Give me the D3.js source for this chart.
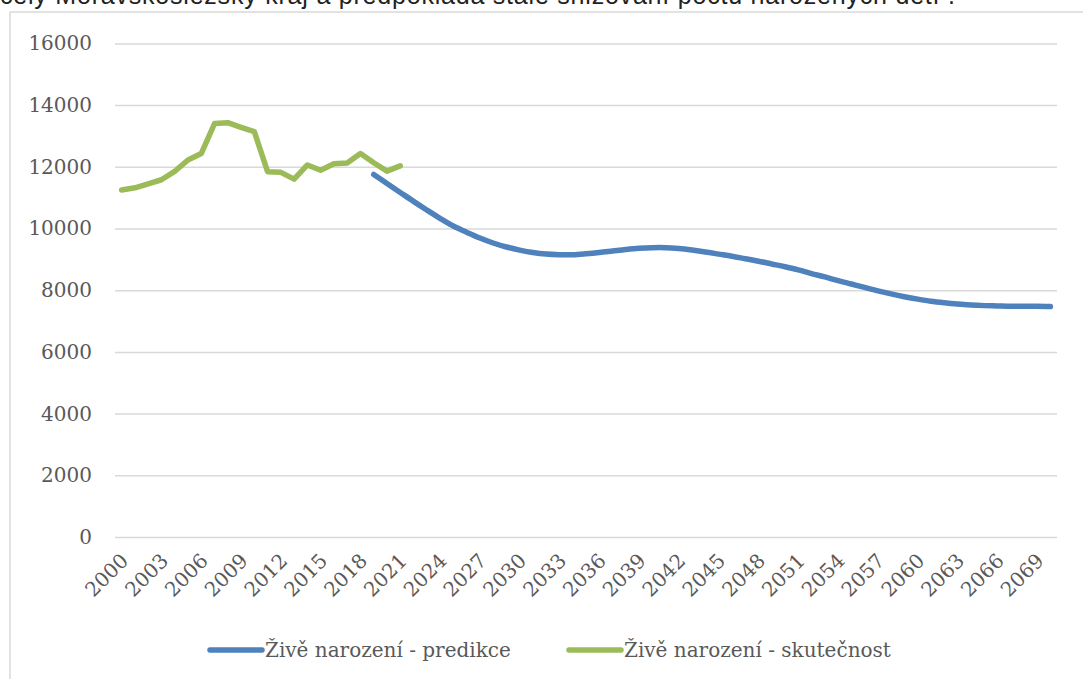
<!DOCTYPE html>
<html>
<head>
<meta charset="utf-8">
<script src="https://cdn.jsdelivr.net/npm/d3@7"></script>
<style>
  body { margin: 0; background: #fff; }
  svg { display: block; }
</style>
</head>
<body>
<div id="chart"></div>
<script>
const w = 1083;
const h = 679;

// roky 2000 - 2070 (kategorie osy x)
const years = d3.range(2000, 2071);
const tickYears = d3.range(2000, 2070, 3);
const yTicks = [0, 2000, 4000, 6000, 8000, 10000, 12000, 14000, 16000];

const actualYears = d3.range(2000, 2022);
const actual = [11250, 11320, 11450, 11580, 11850, 12220, 12430, 13400, 13430, 13280,
	13140, 11840, 11820, 11600, 12060, 11890, 12100, 12120, 12430, 12130, 11860, 12030];

const predYears = d3.range(2019, 2071);
const predicted = [11750, 11460, 11170, 10880, 10600, 10330, 10080, 9880, 9690, 9530,
	9400, 9300, 9220, 9170, 9150, 9150, 9180, 9220, 9270, 9320, 9360, 9380, 9380, 9350,
	9300, 9240, 9170, 9100, 9020, 8940, 8850, 8760, 8660, 8540, 8430, 8310, 8200, 8090,
	7980, 7880, 7790, 7710, 7640, 7590, 7550, 7520, 7500, 7490, 7480, 7480, 7480, 7470];

const legendLabels = ["Živě narození - predikce", "Živě narození - skutečnost"];
const colors = ["#4f81bd", "#9bbb59"];

const serif = "'DejaVu Serif', serif";

const svg = d3.select('#chart')
	.append('svg')
		.attr('width', w)
		.attr('height', h);

// kousek textu nad grafem (uříznutý)
svg.append("text")
	.attr("x", 0)
	.attr("y", 4)
	.attr("font-family", "'Liberation Sans', Arial, sans-serif")
	.attr("font-size", 25)
	.attr("textLength", 955)
	.attr("fill", "#222")
	.text("celý Moravskoslezský kraj a předpokládá stále snižování počtu narozených dětí .");

// rámeček grafu
svg.append("rect")
	.attr("x", 10)
	.attr("y", 12)
	.attr("width", 1100)
	.attr("height", 700)
	.attr("fill", "none")
	.attr("stroke", "#d9d9d9")
	.attr("stroke-width", 1.5);

const xScale = d3.scalePoint()
	.domain(years)
	.range([115, 1057])
	.padding(0.5);

const yScale = d3.scaleLinear()
	.domain([0, 16000])
	.range([537, 43.4]);

const yAxis = svg.append("g")
	.attr("transform", "translate(115,0)")
	.call(d3.axisLeft(yScale).tickValues(yTicks).tickSize(-942).tickPadding(23).tickFormat(d3.format("d")));
yAxis.select(".domain").remove();
yAxis.selectAll("line").attr("stroke", "#d9d9d9").attr("stroke-width", 1.5);
yAxis.selectAll("text")
	.attr("font-family", serif)
	.attr("font-size", 20)
	.attr("fill", "#595959");

svg.append("g")
	.selectAll("text")
	.data(tickYears)
	.enter()
	.append("text")
	.attr("transform", (d) => "translate(" + (xScale(d) + 3) + ",557) rotate(-45)")
	.attr("text-anchor", "end")
	.attr("dy", "0.35em")
	.attr("font-family", serif)
	.attr("font-size", 20)
	.attr("fill", "#595959")
	.text((d) => d);

const line = d3.line()
	.x((d) => xScale(d[0]))
	.y((d) => yScale(d[1]));

svg.append("path")
	.datum(predYears.map((y, i) => [y, predicted[i]]))
	.attr("d", line.curve(d3.curveCatmullRom.alpha(0.5)))
	.attr("fill", "none")
	.attr("stroke", colors[0])
	.attr("stroke-width", 5.5)
	.attr("stroke-linecap", "round")
	.attr("stroke-linejoin", "round");

svg.append("path")
	.datum(actualYears.map((y, i) => [y, actual[i]]))
	.attr("d", line.curve(d3.curveLinear))
	.attr("fill", "none")
	.attr("stroke", colors[1])
	.attr("stroke-width", 5.5)
	.attr("stroke-linecap", "round")
	.attr("stroke-linejoin", "round");

// legenda
const legendX = [210, 569];
const legend = svg.append("g")
	.selectAll("g")
	.data(legendLabels)
	.enter()
	.append("g")
	.attr("transform", (d, i) => "translate(" + legendX[i] + ",650)");

legend.append("line")
	.attr("x1", 0)
	.attr("x2", 52)
	.attr("stroke", (d, i) => colors[i])
	.attr("stroke-width", 5.5)
	.attr("stroke-linecap", "round");

legend.append("text")
	.attr("x", 55)
	.attr("dy", "0.35em")
	.attr("font-family", serif)
	.attr("font-size", 20)
	.attr("fill", "#595959")
	.text((d) => d);
</script>
</body>
</html>
